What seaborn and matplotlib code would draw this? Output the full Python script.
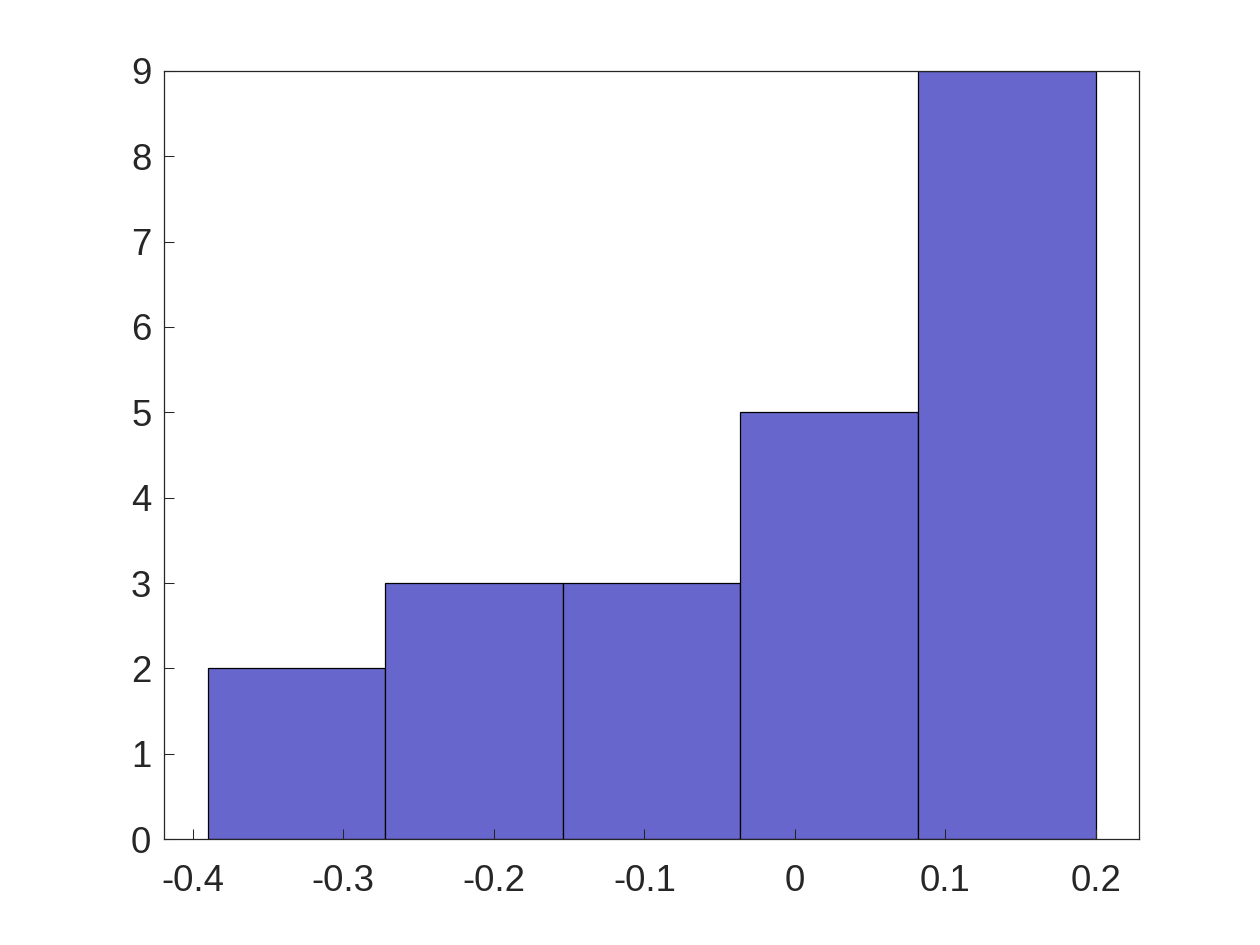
import numpy as np
import pandas as pd
import seaborn as sns
import matplotlib.pyplot as plt

# histogram bins
bin_edges = [-0.39, -0.2724, -0.1542, -0.0365, 0.0817, 0.2]
counts = [2, 3, 3, 5, 9]
x_ticks = [-0.4, -0.3, -0.2, -0.1, 0, 0.1, 0.2]
x_labels = ['-0.4', '-0.3', '-0.2', '-0.1', '0', '0.1', '0.2']
y_ticks = list(range(0, 10))

centers = [(a + b) / 2 for a, b in zip(bin_edges[:-1], bin_edges[1:])]
df = pd.DataFrame({'value': centers, 'count': counts})

sns.set_style('white')
plt.rcParams['font.family'] = ['Liberation Sans', 'DejaVu Sans']

fig = plt.figure(figsize=(8.4, 6.3), dpi=150)
ax = fig.add_axes([0.13, 0.112, 0.774, 0.813])

sns.histplot(data=df, x='value', weights='count', bins=bin_edges, ax=ax,
             color=(0.4, 0.4, 0.8), alpha=1.0, edgecolor='black', linewidth=0.6)

ax.set_xlim(-0.4193, 0.2286)
ax.set_ylim(0, 9)
ax.set_xticks(x_ticks)
ax.set_xticklabels(x_labels)
ax.set_yticks(y_ticks)
ax.set_xlabel('')
ax.set_ylabel('')

for s in ax.spines.values():
    s.set_color('#262626')
    s.set_linewidth(0.6)
ax.set_axisbelow(False)
ax.tick_params(axis='both', direction='in', length=4.8, width=0.5,
               color='#262626', labelcolor='#262626', labelsize=17.5,
               top=False, right=False, bottom=True, left=True, pad=6)
ax.tick_params(axis='x', pad=12)

fig.savefig('out.png', dpi=150)
